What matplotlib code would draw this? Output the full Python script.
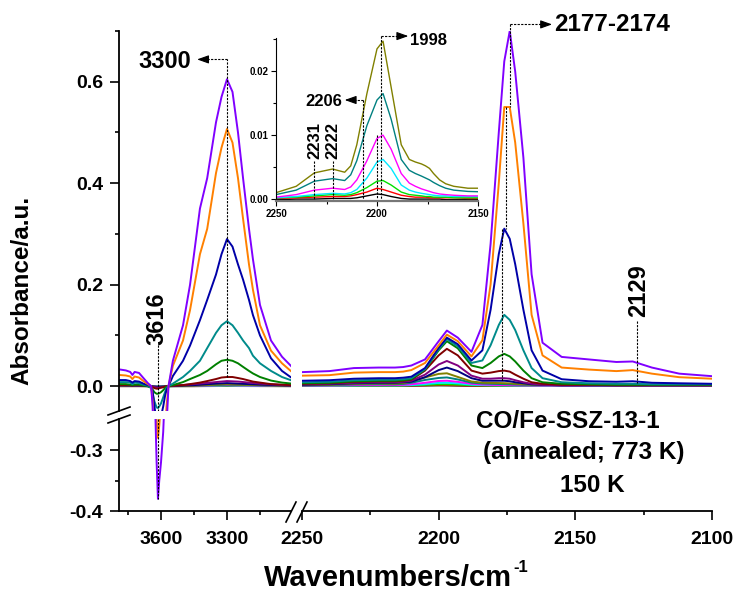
import matplotlib
matplotlib.use('Agg')
import matplotlib.pyplot as plt
from matplotlib.lines import Line2D
from matplotlib.ticker import MultipleLocator, FixedLocator, NullLocator

plt.rcParams['font.family'] = ['Liberation Sans', 'DejaVu Sans']
plt.rcParams['font.weight'] = 'bold'

# ---------------- data ----------------
# OH region (left panel), big spectra
wn_oh = [3790, 3760, 3740, 3730, 3720, 3700, 3680, 3660, 3645, 3638,
         3630, 3620, 3614, 3608, 3600, 3590, 3582, 3575, 3566, 3546,
         3500, 3468, 3423, 3390, 3350, 3325, 3300, 3275, 3250, 3227,
         3200, 3182, 3150, 3100, 3050, 3005]
violet_oh = [.033, .031, .028, .022, .028, .026, .016, .006, .000, -.04,
             -.18, -.32, -.38, -.35, -.32, -.27, -.20, -.08, .000, .05,
             .12, .20, .35, .41, .52, .57, .605, .58, .50, .41,
             .31, .25, .16, .09, .058, .038]
orange_oh = [.022, .021, .019, .014, .019, .017, .010, .004, .000, -.03,
             -.14, -.25, -.28, -.26, -.22, -.16, -.10, -.04, .000, .04,
             .09, .15, .26, .31, .42, .47, .507, .48, .41, .33,
             .24, .19, .12, .07, .045, .028]
blue_oh = [.012, .012, .010, .007, .010, .009, .005, .002, .000, -.01,
           -.04, -.07, -.08, -.07, -.06, -.04, -.02, -.008, .000, .02,
           .05, .08, .13, .17, .22, .26, .29, .275, .24, .21,
           .17, .14, .10, .055, .03, .016]
teal_oh = [.008, .008, .007, .004, .007, .006, .003, .001, -.004, -.015,
           -.03, -.042, -.043, -.040, -.034, -.022, -.012, -.004, .000, .005,
           .018, .03, .05, .075, .105, .12, .128, .12, .105, .09,
           .075, .06, .045, .03, .018, .011]
dgreen_oh = [.004, .004, .003, .002, .003, .003, .001, .000, -.003, -.007,
             -.012, -.015, -.015, -.014, -.012, -.008, -.004, -.001, .000, .002,
             .008, .014, .022, .03, .043, .05, .052, .05, .045, .038,
             .03, .025, .018, .011, .007, .005]
wine_oh = [.002, .002, .002, .001, .002, .002, .001, .000, -.001, -.002,
           -.004, -.005, -.005, -.004, -.003, -.002, -.001, .000, .000, .001,
           .002, .004, .007, .010, .014, .017, .018, .018, .016, .014,
           .011, .009, .007, .004, .003, .002]

# OH region, low-dose spectra (coarser sampling)
wn_oh_small = [3790, 3700, 3660, 3630, 3614, 3590, 3566, 3450, 3350, 3300, 3250, 3150, 3005]
purple_oh = [.002, .0015, .0005, -.002, -.003, -.002, 0, .004, .008, .010, .009, .005, .001]
navy_oh = [.0015, .001, .0005, -.001, -.002, -.001, 0, .002, .005, .006, .005, .003, .001]
olive_oh = [.001, .001, 0, -.001, -.0015, -.001, 0, .001, .003, .004, .003, .002, .0005]
dcyan_oh = [.001, .0005, 0, -.001, -.001, -.0005, 0, .001, .002, .003, .0025, .0015, .0005]
magenta_oh = [.0005, .0005, 0, -.0005, -.001, -.0005, 0, .0005, .0015, .002, .0015, .001, .0003]
cyan_oh = [.0003, .0003, 0, -.0003, -.0005, -.0003, 0, .0003, .001, .0015, .001, .0005, .0002]
green_oh = [.0002, .0002, 0, -.0002, -.0003, -.0002, 0, .0002, .0007, .001, .0007, .0003, .0001]
red_oh = [.0001, .0001, 0, -.0001, -.0002, -.0001, 0, .0001, .0004, .0006, .0004, .0002, .0001]
black_oh = [0, 0, 0, -.0001, -.0001, 0, 0, 0, .0002, .0003, .0002, .0001, 0]

# CO region (right panel + inset)
wn_co = [2250, 2240, 2231, 2222, 2216, 2213, 2210, 2205, 2200, 2197,
         2193, 2188, 2184, 2181, 2178, 2176, 2174, 2172, 2169, 2166,
         2162, 2155, 2145, 2135, 2129, 2122, 2112, 2100]
violet_co = [.027, .029, .035, .036, .036, .037, .040, .052, .088, .109,
             .095, .067, .12, .28, .50, .64, .70, .62, .45, .22,
             .085, .057, .052, .047, .048, .036, .024, .019]
orange_co = [.020, .021, .026, .027, .027, .028, .031, .045, .08, .101,
             .088, .058, .09, .20, .40, .55, .55, .48, .32, .14,
             .06, .036, .032, .029, .031, .024, .017, .014]
blue_co = [.010, .011, .014, .015, .015, .016, .018, .035, .075, .095,
           .082, .05, .07, .15, .26, .31, .29, .24, .15, .07,
           .03, .013, .009, .008, .009, .006, .005, .004]
teal_co = [.007, .008, .011, .012, .012, .013, .015, .033, .072, .092,
           .078, .045, .05, .08, .12, .14, .13, .11, .07, .035,
           .015, .007, .005, .004, .004, .003, .003, .003]
dgreen_co = [.005, .006, .009, .010, .010, .011, .013, .032, .070, .088,
             .074, .040, .035, .045, .058, .063, .058, .048, .030, .015,
             .007, .004, .003, .002, .002, .002, .002, .002]
wine_co = [.004, .005, .008, .009, .009, .010, .012, .030, .060, .073,
           .060, .030, .024, .026, .029, .030, .028, .022, .014, .007,
           .004, .002, .002, .001, .001, .001, .001, .001]
purple_co = [.003, .004, .006, .007, .007, .008, .010, .022, .042, .049,
             .040, .020, .014, .014, .015, .015, .014, .011, .007, .004,
             .002, .001, .001, .001, .001, .001, .001, .001]
navy_co = [.002, .003, .005, .006, .006, .007, .008, .017, .031, .036,
           .029, .015, .010, .010, .010, .010, .009, .007, .005, .003,
           .002, .001, .001, .001, .001, .001, .001, .001]
olive_co = [.0010, .0020, .0041, .0047, .0042, .0052, .0085, .0165, .0235, .0247,
            .0175, .0085, .0062, .0058, .0055, .0052, .0048, .0040, .0030, .0024,
            .0020, .0017, .0017, .0016, .0016, .0015, .0015, .0014]
dcyan_co = [.0007, .0014, .0028, .0032, .0029, .0038, .0060, .0115, .0155, .0165,
            .0125, .0062, .0045, .0040, .0036, .0033, .0030, .0026, .0021, .0017,
            .0014, .0012, .0011, .0011, .0011, .0011, .0010, .0010]
magenta_co = [.0003, .0007, .0014, .0017, .0015, .0019, .0030, .0060, .0095, .0100,
              .0078, .0040, .0025, .0020, .0016, .0014, .0012, .0010, .0008, .0007,
              .0006, .0005, .0005, .0005, .0005, .0004, .0004, .0004]
cyan_co = [.0002, .0004, .0007, .0009, .0008, .0010, .0015, .0033, .0058, .0062,
           .0048, .0022, .0014, .0011, .0009, .0008, .0007, .0006, .0005, .0005,
           .0004, .0004, .0004, .0004, .0003, .0003, .0003, .0003]
green_co = [.0002, .0003, .0005, .0007, .0006, .0007, .0010, .0018, .0028, .0029,
            .0022, .0011, .0007, .0006, .0005, .0004, .0004, .0003, .0003, .0003,
            .0002, .0002, .0002, .0002, .0002, .0002, .0002, .0002]
red_co = [.0001, .0002, .0003, .0004, .0004, .0005, .0007, .0011, .0017, .0015,
          .0011, .0006, .0004, .0003, .0003, .0003, .0002, .0002, .0002, .0002,
          .0002, .0001, .0001, .0001, .0001, .0001, .0001, .0001]
black_co = [-.0001, .0000, .0000, .0001, .0001, .0001, .0002, .0005, .0008, .0007,
            .0004, .0001, .0000, .0000, .0000, .0000, .0000, .0000, .0000, -.0001,
            -.0001, -.0001, -.0001, -.0001, -.0001, -.0001, -.0001, -.0001]

# lowest dose first
small_oh = [black_oh, red_oh, green_oh, cyan_oh, magenta_oh, dcyan_oh, olive_oh, navy_oh, purple_oh]
big_oh = [wine_oh, dgreen_oh, teal_oh, blue_oh, orange_oh, violet_oh]
all_co = [black_co, red_co, green_co, cyan_co, magenta_co, dcyan_co, olive_co, navy_co,
          purple_co, wine_co, dgreen_co, teal_co, blue_co, orange_co, violet_co]
colors = ['#000000', '#FF0000', '#00E000', '#00E8FF', '#FF00FF', '#008080', '#808000', '#000080',
          '#800080', '#800000', '#008000', '#008B8B', '#0000A8', '#FF8000', '#8000FF']

# ---------------- figure ----------------
W, H = 735, 592
fig = plt.figure(figsize=(W / 100, H / 100), dpi=100)


def box(x0, y0, x1, y1):
    return [x0 / W, 1 - y1 / H, (x1 - x0) / W, (y1 - y0) / H]


ax_top = fig.add_axes(box(119, 31, 291, 411))
ax_bot = fig.add_axes(box(119, 419, 291, 511))
ax_r = fig.add_axes(box(302, 31, 712, 511))
ax_in = fig.add_axes(box(276, 38, 478, 201))

for ax in (ax_top, ax_bot, ax_r, ax_in):
    ax.set_facecolor('none')
    for s in ax.spines.values():
        s.set_visible(False)
        s.set_linewidth(1.3)
    ax.tick_params(which='major', direction='out', length=6.5, width=1.2, labelsize=14, pad=5)
    ax.tick_params(which='minor', direction='out', length=3.2, width=1.2)

lw = 1.4
for ax in (ax_top, ax_bot):
    for ys, c in zip(small_oh, colors[:9]):
        ax.plot(wn_oh_small, ys, color=c, lw=lw)
    for ys, c in zip(big_oh, colors[9:]):
        ax.plot(wn_oh, ys, color=c, lw=lw)
    ax.set_xlim(3791, 3009)
    ax.spines['left'].set_visible(True)

ax_top.set_ylim(-0.049, 0.70)
ax_top.yaxis.set_major_locator(FixedLocator([0.0, 0.2, 0.4, 0.6]))
ax_top.yaxis.set_minor_locator(FixedLocator([0.1, 0.3, 0.5, 0.7]))
ax_top.yaxis.set_major_formatter(plt.FormatStrFormatter('%.1f'))
ax_top.xaxis.set_major_locator(NullLocator())
ax_top.xaxis.set_minor_locator(NullLocator())

ax_bot.set_ylim(-0.40, -0.249)
ax_bot.yaxis.set_major_locator(FixedLocator([-0.4, -0.3]))
ax_bot.yaxis.set_minor_locator(FixedLocator([-0.35]))
ax_bot.yaxis.set_major_formatter(plt.FormatStrFormatter('%.1f'))
ax_bot.spines['bottom'].set_visible(True)
ax_bot.xaxis.set_major_locator(FixedLocator([3600, 3300]))
ax_bot.xaxis.set_minor_locator(FixedLocator([3750, 3450, 3150]))
ax_bot.tick_params(axis='x', pad=8)

for ys, c in zip(all_co, colors):
    ax_r.plot(wn_co, ys, color=c, lw=lw)
ax_r.set_xlim(2250, 2100)
ax_r.set_ylim(-0.247, 0.70)
ax_r.spines['bottom'].set_visible(True)
ax_r.xaxis.set_major_locator(FixedLocator([2250, 2200, 2150, 2100]))
ax_r.xaxis.set_minor_locator(FixedLocator([2225, 2175, 2125]))
ax_r.yaxis.set_major_locator(NullLocator())
ax_r.tick_params(axis='x', pad=8)

# inset
for ys, c in zip(all_co[:7], colors[:7]):
    ax_in.plot(wn_co, ys, color=c, lw=1.0)
ax_in.set_xlim(2250, 2150)
ax_in.set_ylim(-0.0003, 0.0252)
ax_in.spines['left'].set_visible(True)
ax_in.spines['bottom'].set_visible(True)
ax_in.spines['left'].set_linewidth(0.8)
ax_in.spines['bottom'].set_linewidth(1.6)
ax_in.spines['bottom'].set_color('#777777')
ax_in.xaxis.set_major_locator(MultipleLocator(50))
ax_in.xaxis.set_minor_locator(MultipleLocator(25))
ax_in.yaxis.set_major_locator(MultipleLocator(0.01))
ax_in.yaxis.set_minor_locator(MultipleLocator(0.005))
ax_in.yaxis.set_major_formatter(plt.FormatStrFormatter('%.2f'))
ax_in.tick_params(which='major', length=3.5, width=0.8, labelsize=7, pad=2)
ax_in.tick_params(which='minor', length=2, width=0.8)

# ---------------- annotations ----------------
dash = dict(color='k', lw=0.8, linestyle=(0, (2, 1.2)), clip_on=False)
fs_big = 17
arrow = dict(arrowstyle='-|>,head_length=0.7,head_width=0.25', color='k', lw=0.8, shrinkA=0, shrinkB=0)

# 3300
ax_top.plot([3300, 3300], [0.018, 0.644], **dash)
ax_top.plot([3300, 3390], [0.644, 0.644], **dash)
ax_top.annotate('', xy=(3436, 0.644), xytext=(3390, 0.644), arrowprops=arrow, annotation_clip=False)
ax_top.text(3462, 0.640, '3300', fontsize=fs_big, fontweight='bold', ha='right', va='center')

# 3616
ax_top.plot([3614, 3614], [0.081, -0.049], **dict(dash, clip_on=True))
ax_bot.plot([3614, 3614], [-0.249, -0.38], **dict(dash, clip_on=True))
ax_top.text(3618, 0.132, '3616', fontsize=fs_big, fontweight='bold', rotation=90, ha='center', va='center')

# 2177-2174
ax_r.plot([2174, 2174], [0.713, 0.55], **dash)
ax_r.plot([2175.5, 2175.5], [0.55, 0.31], **dash)
ax_r.plot([2177, 2177], [0.31, 0.01], **dash)
ax_r.plot([2174, 2163], [0.713, 0.713], **dash)
ax_r.annotate('', xy=(2158.5, 0.713), xytext=(2163, 0.713), arrowprops=arrow, annotation_clip=False)
ax_r.text(2157.8, 0.713, '2177-2174', fontsize=17.5, fontweight='bold', ha='left', va='center')

# 2129
ax_r.plot([2127.6, 2127.6], [0.128, 0.006], **dash)
ax_r.text(2126.8, 0.188, '2129', fontsize=fs_big, fontweight='bold', rotation=90, ha='center', va='center')

# inset annotations
fs_in = 12
ax_in.plot([2198, 2198], [0.0255, 0.0], **dash)
ax_in.plot([2200, 2200], [0.010, 0.0], **dash)
ax_in.plot([2198, 2189], [0.0255, 0.0255], **dash)
ax_in.annotate('', xy=(2184.5, 0.0255), xytext=(2189, 0.0255), arrowprops=arrow, annotation_clip=False)
ax_in.text(2183.7, 0.0248, '1998', fontsize=fs_in, fontweight='bold', ha='left', va='center')

ax_in.plot([2207, 2207], [0.0155, 0.0], **dash)
ax_in.plot([2207, 2212], [0.0155, 0.0155], **dash)
ax_in.annotate('', xy=(2216, 0.0155), xytext=(2212, 0.0155), arrowprops=arrow, annotation_clip=False)
ax_in.text(2217.3, 0.0152, '2206', fontsize=fs_in, fontweight='bold', ha='right', va='center')

for wn in (2231, 2222):
    ax_in.plot([wn, wn], [0.006, 0.0], **dash)
    ax_in.text(wn - 0.3, 0.0092, str(wn), fontsize=fs_in, fontweight='bold', rotation=90,
               ha='center', va='center')

# sample description
fig.text(568 / W, 1 - 422 / H, 'CO/Fe-SSZ-13-1', fontsize=17.5, fontweight='bold', ha='center', va='center')
fig.text(584 / W, 1 - 452 / H, '(annealed; 773 K)', fontsize=17.5, fontweight='bold', ha='center', va='center')
fig.text(592 / W, 1 - 485 / H, '150 K', fontsize=17.5, fontweight='bold', ha='center', va='center')

# axis labels
fig.text(512 / W, 1 - 578 / H, 'Wavenumbers/cm', fontsize=21, fontweight='bold', ha='right', va='center')
fig.text(513 / W, 1 - 567 / H, '-1', fontsize=12, fontweight='bold', ha='left', va='center')
fig.text(22 / W, 1 - 290 / H, 'Absorbance/a.u.', fontsize=17.5, fontweight='bold', rotation=90,
         ha='center', va='center')

# axis break marks
def slash(x0, y0, x1, y1):
    fig.add_artist(Line2D([x0 / W, x1 / W], [1 - y0 / H, 1 - y1 / H], color='k', lw=1.2))


slash(108, 415, 130, 407)
slash(108, 423, 130, 415)
slash(286, 522, 296, 502)
slash(297, 522, 307, 502)

fig.savefig('out.png', dpi=100)
